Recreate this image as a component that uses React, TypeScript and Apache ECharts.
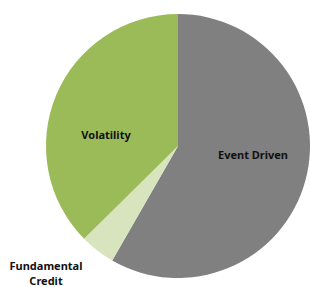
import React, { useEffect, useRef } from "react";
import * as echarts from "echarts";

const categories = ["Event Driven", "Fundamental Credit", "Volatility"];
const labelTexts = ["Event Driven", "Fundamental\nCredit", "Volatility"];
const values = [58.3, 4.3, 37.4];
const colors = ["#808080", "#D7E4BD", "#9BBB59"];

const labelPos: [number, number][] = [
  [253, 154],
  [46, 273],
  [106, 134],
];

export default function App() {
  const ref = useRef<HTMLDivElement>(null);
  useEffect(() => {
    if (!ref.current) return;
    const chart = echarts.init(ref.current, undefined, { renderer: "svg" });
    chart.setOption({
      animation: false,
      backgroundColor: "#ffffff",
      graphic: labelTexts.map((t, i) => ({
        type: "text",
        x: labelPos[i][0],
        y: labelPos[i][1],
        z: 100,
        style: {
          text: t,
          fontFamily: "Noto Sans",
          fontWeight: "bold",
          fontSize: 11,
          lineHeight: 15,
          fill: "#111111",
          align: "center",
          verticalAlign: "middle",
        },
      })),
      series: [
        {
          type: "pie",
          center: [178, 146],
          radius: [0, 132],
          startAngle: 90,
          clockwise: true,
          silent: true,
          label: { show: false },
          labelLine: { show: false },
          itemStyle: { borderWidth: 0 },
          data: categories.map((c, i) => ({
            name: c,
            value: values[i],
            itemStyle: { color: colors[i] },
          })),
        },
      ],
    });
    return () => chart.dispose();
  }, []);
  return (
    <div
      ref={ref}
      style={{ position: "fixed", left: 0, top: 0, width: 310, height: 287 }}
    />
  );
}
